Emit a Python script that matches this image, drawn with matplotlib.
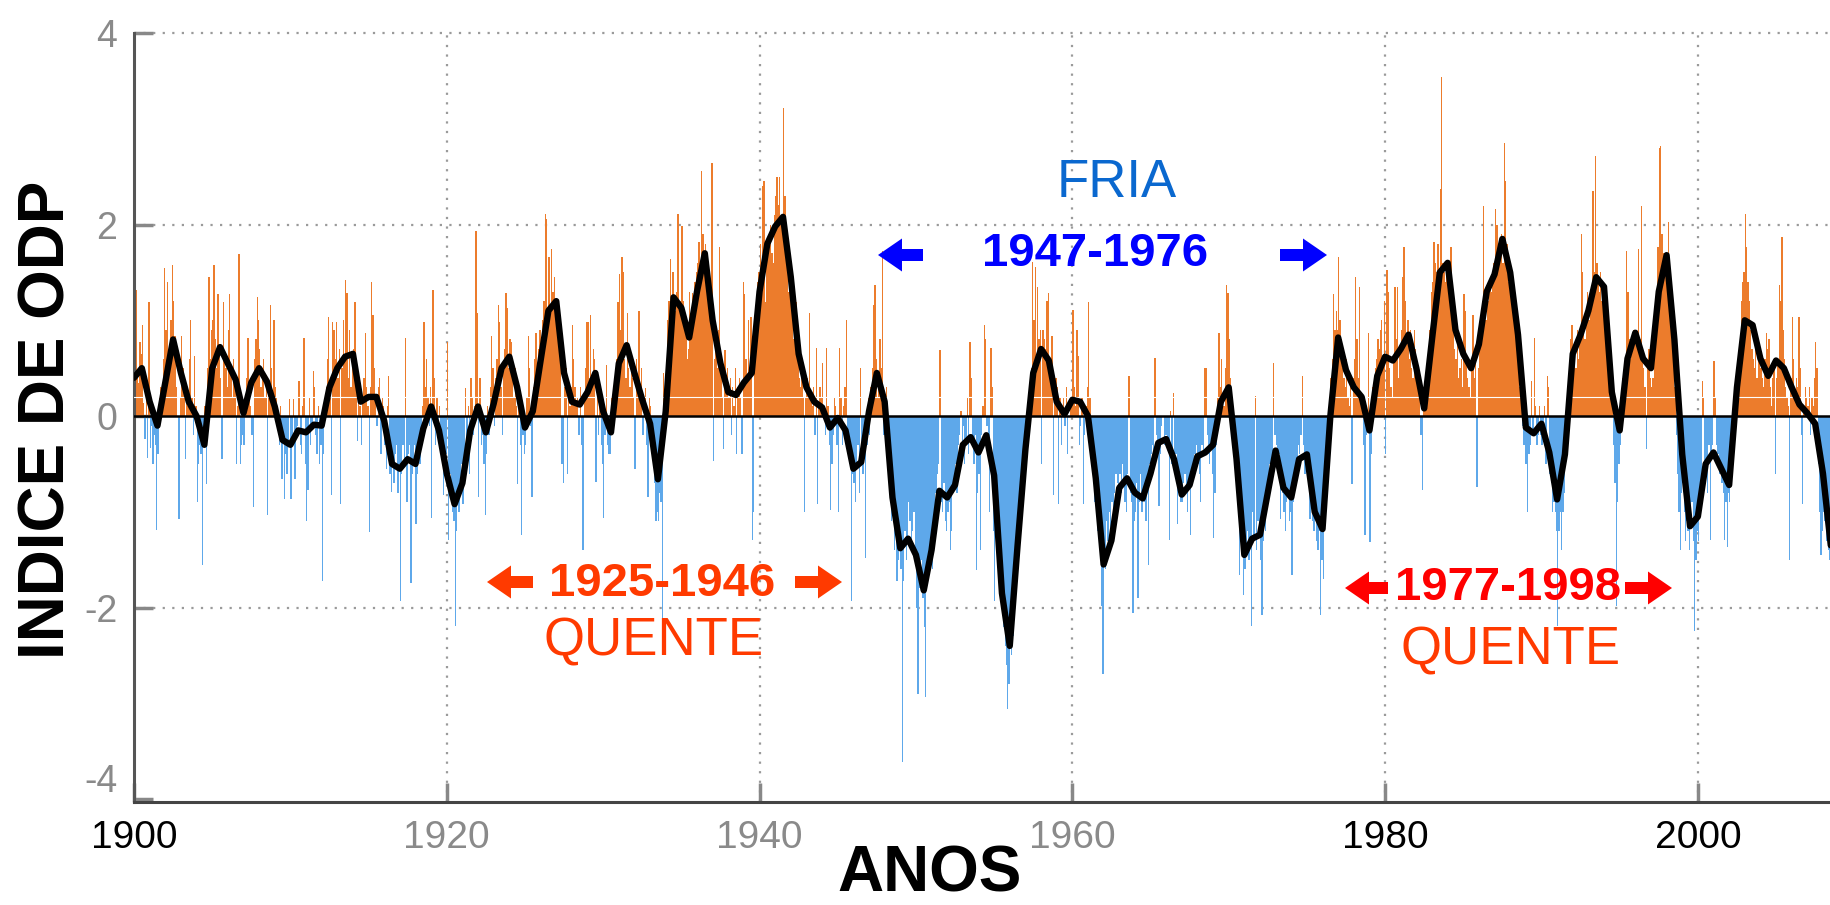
import matplotlib
matplotlib.use("Agg")
import matplotlib.pyplot as plt
import numpy as np
from matplotlib.patches import FancyArrow
from matplotlib.transforms import IdentityTransform

plt.rcParams['font.family'] = ['Liberation Sans', 'DejaVu Sans']

# ---------------- data (monthly PDO index) ----------------
pdo_1900s = [
    0.04, 1.32, 0.49, 0.35, 0.77, 0.65, 0.95, 0.14, -0.24, 0.23, -0.44, 1.19,
    -0.33, -0.10, -0.50, -0.20, -0.30, -1.19, -0.40, 0.20, 0.30, 0.10, 0.60, 1.55,
    0.90, 1.40, 0.60, 0.70, 1.00, 1.58, 1.20, 0.84, 0.30, 0.00, -1.08, 0.20,
    0.84, 0.50, 0.20, -0.45, 0.30, 0.10, 0.60, 1.00, 0.20, -0.20, 0.63, 0.10,
    -0.90, -0.50, -0.30, -0.40, -1.56, -0.20, 0.10, -0.71, 0.50, 1.45, 0.60, 0.90,
    1.00, 1.58, 0.80, 0.50, 1.27, 0.70, 0.40, -0.45, 1.19, 0.60, 0.50, 0.30,
    0.90, 1.27, 0.50, 0.20, 0.60, 0.30, -0.50, 0.10, 1.69, -0.50, -0.30, -0.20,
    -0.30, 0.20, 0.40, 0.82, 0.30, 0.10, -0.20, -0.95, 0.60, 0.80, 1.24, 1.00,
    0.70, 0.30, 0.50, 0.60, 0.20, 0.40, -1.03, 0.30, 1.16, 0.50, 0.10, 1.00,
    0.30, 0.20, -0.10, -0.30, 0.10, -0.66, -0.20, -0.87, -0.40, -0.60, -0.30, 0.18]
pdo_1910s = [
    -0.87, -0.30, 0.18, -0.66, -0.20, -0.10, 0.37, -0.30, -0.40, 0.10, 0.82, -0.50,
    -1.10, -0.77, 0.20, -0.30, -0.10, 0.47, 0.30, -0.20, -0.40, 0.10, -0.50, -0.30,
    -1.72, -0.40, 0.10, 0.30, 0.60, 1.03, 0.20, -0.82, 0.98, 0.90, 0.60, 0.98,
    0.40, 0.70, -0.92, 0.50, 1.00, 0.60, 1.42, 1.29, 0.40, 0.90, 0.30, 0.60,
    0.70, 1.19, 0.50, -0.26, 0.20, 0.10, -0.30, 0.20, 0.40, 0.87, 0.30, 0.10,
    -1.21, 0.30, 1.40, 1.06, 0.50, 0.20, -0.10, 0.30, 0.40, -0.40, 0.20, 0.10,
    -0.30, -0.55, 0.10, 0.42, -0.60, -0.79, -0.50, -0.70, -0.40, -0.30, -0.80, -0.50,
    -1.93, -0.60, -0.30, -0.50, 0.82, -0.90, -0.40, -0.30, -1.74, -0.60, -0.50, -0.30,
    -1.13, -0.60, -0.40, -0.50, -0.20, 0.10, 0.98, 0.30, 0.60, 0.20, -0.10, 0.30,
    -1.06, 1.32, 0.40, -0.30, 0.20, -0.10, 0.10, -0.40, -0.30, -0.82, -0.60, -0.40]
pdo_1920s = [
    0.77, -1.29, -0.60, -0.80, -1.00, -1.10, -2.19, -1.20, -0.90, -1.00, -0.70, -0.50,
    -0.92, -0.40, 0.29, -0.30, 0.10, -0.61, 0.40, 0.20, -0.20, 0.10, 1.93, 1.08,
    -0.84, 0.40, -0.30, -0.20, -0.50, -1.03, -0.40, 0.10, -0.20, 0.30, 0.84, 0.50,
    -0.10, 0.40, 0.60, 1.16, 0.98, 0.30, -0.20, 0.50, 0.70, 1.29, 1.13, 0.50,
    0.80, 0.77, 0.40, 0.20, 0.50, 0.10, -0.71, 0.20, -0.30, -1.24, -0.20, -0.40,
    -0.30, 0.20, 0.84, 0.50, -0.10, -0.84, 0.30, 0.60, 0.87, 0.40, 0.70, 0.90,
    0.60, 1.00, 1.20, 2.11, 2.06, 0.90, 1.66, 1.10, 1.74, 1.30, 1.45, 1.20,
    1.20, 0.90, 0.70, 0.60, -0.50, -0.70, 0.30, 0.50, -0.60, 0.20, 0.10, 0.30,
    0.95, 0.60, 0.30, 0.10, 0.20, -0.20, 0.30, -0.30, -1.40, 0.20, 0.50, 0.98,
    0.98, 0.40, 1.06, 0.30, 0.70, 0.60, -0.69, 0.30, -0.20, 0.10, -0.30, -0.50]
pdo_1930s = [
    -1.06, -0.20, 0.53, -0.30, -0.40, -0.40, 0.20, -0.10, 0.30, 0.40, 0.60, 1.19,
    1.48, 0.90, 1.66, 1.50, 0.60, 0.40, 1.08, 0.50, 0.30, 0.60, 0.40, 0.20,
    -0.55, 0.60, 0.30, 1.10, 0.20, 0.50, -0.20, 0.10, 0.29, -0.30, -0.84, 0.20,
    0.10, -0.30, -0.50, -0.70, -1.10, -1.00, -1.10, -0.80, -0.90, -2.19, 0.45, -0.20,
    0.50, 1.00, 1.20, 1.64, 1.00, 1.50, 1.20, 1.10, 1.30, 2.11, 1.10, 1.20,
    1.98, 1.20, 1.00, 0.87, 0.60, 0.70, 1.30, 1.00, 1.29, 1.10, 1.40, 1.50,
    1.60, 1.82, 1.50, 2.56, 1.90, 1.70, 1.80, 1.50, 1.60, 1.20, 1.00, 2.64,
    -0.47, 0.60, 0.80, 0.50, 0.90, 1.77, 0.60, 0.20, -0.34, 0.69, 0.30, 0.50,
    0.20, 0.40, -0.20, 0.30, 0.10, 0.50, -0.40, 0.30, 0.40, 0.20, -0.40, 1.40,
    1.27, 0.60, 0.40, 1.00, 0.50, 1.03, -1.29, -1.00, 0.80, 1.20, 1.40, 1.50]
pdo_1940s = [
    1.80, 1.50, 2.40, 2.45, 1.19, 1.60, 1.80, 1.90, 2.00, 1.70, 1.60, 2.10,
    2.30, 2.50, 2.20, 2.50, 2.00, 2.10, 3.22, 2.30, 1.80, 1.50, 1.30, 1.40,
    1.20, 1.00, 0.80, 0.90, 1.19, 0.80, 0.40, 0.30, 0.50, 0.20, -1.00, 0.20,
    0.40, 0.30, 1.08, 0.20, 0.10, 0.30, -0.20, 0.71, -0.92, 0.10, 0.30, 0.20,
    0.55, 0.10, -0.20, 0.71, 0.10, -0.30, -0.98, -0.50, -0.20, 0.20, 0.10, -0.30,
    -1.00, 0.71, 0.20, -0.30, 0.10, 0.30, 1.00, -0.20, -0.40, -0.50, -1.93, -0.60,
    -0.70, -0.90, -0.50, -0.30, -0.80, 0.50, -0.40, -0.60, -0.20, -1.48, -0.30, 0.20,
    -0.20, 0.30, 0.50, 1.16, 1.37, 0.60, 0.20, 0.40, 0.80, 0.50, 1.72, -0.20,
    0.20, 0.30, -0.50, -0.30, -0.80, -1.10, -1.00, -1.40, -1.20, -1.72, -1.50, -1.30,
    -1.60, -3.61, -1.72, -1.20, -1.50, -1.30, -0.90, -1.10, -1.40, -1.20, -1.00, -1.50]
pdo_1950s = [
    -2.00, -2.90, -1.80, -1.60, -1.50, -1.90, -2.20, -2.93, -1.70, -1.60, -1.40, -1.50,
    -1.60, -1.30, -1.00, -0.80, -0.60, -0.50, 0.69, -0.90, -1.00, -0.70, -1.10, -1.20,
    -1.00, -0.90, -1.40, -1.20, -0.80, -0.70, -0.50, -0.80, -0.30, -0.20, 0.05, -0.40,
    -0.10, -0.50, -0.30, 0.20, -0.40, 0.77, 0.40, -0.30, -0.50, -0.20, -1.61, -0.80,
    -0.60, -1.40, -0.20, 0.10, 0.95, 0.80, -0.10, -0.40, -1.00, 0.71, 0.30, -1.20,
    -1.93, -1.00, -1.20, -1.40, -1.80, -2.00, -1.90, -2.20, -2.40, -2.60, -3.06, -2.80,
    -2.30, -2.50, -2.30, -2.00, -1.60, -1.40, -1.20, -1.10, -0.90, -0.60, -0.40, -0.30,
    -0.20, 0.10, 0.00, 0.30, 0.50, 1.61, 1.00, 1.56, 0.50, 1.35, 0.80, 0.90,
    -0.50, 0.90, 0.80, 0.70, 1.20, 1.29, 0.60, 0.40, 0.84, -0.82, 0.30, 0.40,
    0.30, -0.92, 0.20, -0.30, 0.10, 0.20, -0.10, 0.30, -0.40, 0.00, 0.20, 0.10]
pdo_1960s = [
    1.11, 0.30, 0.10, 0.90, 0.63, -0.30, -0.10, 0.20, -0.92, -0.20, 0.10, 0.30,
    1.19, 0.20, -0.10, -0.30, -0.60, -0.90, -1.00, -1.20, -0.80, -1.10, -1.98, -2.69,
    -1.40, -1.60, -1.10, -1.30, -1.00, -1.20, -0.90, -1.00, -0.80, -0.60, -0.70, -0.90,
    -0.60, -0.80, -0.50, -0.70, -0.90, -1.00, -0.60, 0.42, -0.80, -0.90, -2.06, -1.10,
    -1.00, -0.70, -1.90, -0.90, -0.60, -1.00, -0.80, -0.90, -1.10, -0.70, -1.56, -0.50,
    -0.40, -0.30, -0.50, 0.61, -0.20, -0.30, -0.94, -0.40, -0.10, 0.00, -0.30, -0.20,
    -0.20, -0.30, -1.29, 0.05, -0.50, 0.24, -0.60, -0.40, -1.13, -0.70, -0.80, -0.90,
    -0.90, -0.70, -0.60, -0.80, -1.00, -0.70, -1.24, -0.60, -0.50, -0.40, -0.50, -0.30,
    -0.50, -0.60, -0.90, -0.30, -0.40, 0.50, 0.50, -0.20, -0.40, -0.50, -0.30, -0.60,
    -1.27, -0.80, -0.30, 0.20, 0.87, 0.30, 0.60, 0.20, 0.10, 0.50, 1.37, 1.29]
pdo_1970s = [
    0.80, 0.40, 0.20, -0.30, -0.20, -0.50, -0.80, -1.00, -1.66, -1.20, -1.40, -1.87,
    -1.60, -1.40, -1.20, -1.50, -1.30, -2.19, -1.00, -1.30, 0.21, -1.40, -1.10, -1.20,
    -1.50, -2.08, -1.30, -1.10, -1.20, -0.90, -0.70, -0.50, -0.60, -0.40, 0.55, -0.20,
    -0.30, -0.50, -0.40, -1.08, -0.70, -0.80, -1.00, -1.20, -0.90, -0.80, -1.10, -1.00,
    -1.66, -0.90, -0.70, -0.60, -0.50, -0.30, -0.40, -0.20, 0.42, -0.30, -0.60, -0.50,
    -0.50, -0.70, -1.08, -0.90, -1.10, -1.20, -1.00, -1.30, -1.40, -1.20, -2.08, -1.50,
    -1.70, -1.20, -0.90, -0.60, -0.30, 0.10, 0.40, 0.60, 1.27, 0.90, 1.10, 0.90,
    1.66, 1.00, 0.80, 0.50, 0.40, 0.30, 0.60, 0.20, 0.10, 0.30, -0.71, 0.40,
    0.60, 1.45, 0.80, 0.40, 1.35, 0.20, 0.10, -0.30, -1.24, -0.20, -0.10, 0.87,
    -1.32, -0.40, 0.30, 0.20, 0.50, 0.60, 0.80, 0.70, 0.90, 1.00, 0.50, 1.20]
pdo_1980s = [
    -0.40, 1.53, 1.30, 0.50, 0.30, 0.20, 0.60, 1.35, 0.80, 1.35, 0.40, 0.70,
    0.90, 1.45, 1.77, 1.20, 0.80, 1.00, 0.60, 0.90, 0.50, 0.40, 0.90, 0.70,
    0.40, 0.30, 0.20, -0.20, -0.77, 0.10, 0.30, 0.10, 0.40, 0.60, 0.90, 1.30,
    1.40, 1.82, 1.60, 1.50, 1.80, 1.30, 2.37, 3.54, 1.60, 1.50, 1.40, 1.60,
    1.50, 1.30, 1.77, 1.20, 0.90, 0.70, 0.60, 0.90, 0.40, 0.50, 0.60, 0.30,
    1.27, 1.10, 0.60, 0.40, 0.30, 0.20, 0.50, 1.06, 0.40, 0.70, -0.74, 0.50,
    0.80, 1.00, 1.20, 2.19, 1.10, 1.00, 1.30, 1.20, 1.40, 1.30, 1.50, 1.60,
    2.16, 2.00, 2.00, 1.80, 1.70, 1.90, 1.60, 2.85, 2.45, 1.80, 1.40, 1.50,
    1.40, 1.30, 1.20, 1.00, 0.90, 0.80, 0.50, 0.30, 0.20, -0.10, -0.30, -0.50,
    -0.50, -1.00, -0.40, -0.30, 0.37, -0.20, 0.82, 0.10, -0.30, -0.20, 0.10, -0.20]
pdo_1990s = [
    -0.30, -0.20, 0.10, -0.50, 0.42, 0.30, -0.60, -0.70, -1.00, -0.90, -1.00, -1.20,
    -2.19, -1.20, -1.00, -1.40, -1.00, -0.80, -0.30, 0.10, 0.30, 0.50, 0.80, 0.95,
    0.70, 0.60, 0.50, 0.90, 0.60, 0.80, 1.90, 1.50, 0.90, 0.80, 1.10, 1.30,
    1.00, 1.20, 1.30, 2.35, 1.50, 2.72, 1.60, 1.40, 1.30, 1.50, 1.20, 1.40,
    1.20, 1.10, 0.90, 0.70, 0.50, 0.30, 0.10, -0.30, -0.70, -1.98, -0.90, -0.50,
    -0.30, 0.10, 0.40, 0.50, 0.60, 1.72, 1.30, 0.80, 0.60, 0.70, 0.90, 0.80,
    0.90, 0.70, 1.74, 0.80, 2.19, 0.60, 0.50, 0.30, -0.34, 0.50, 0.70, 0.40,
    0.30, 0.40, 0.60, 1.00, 1.20, 1.77, 2.80, 2.82, 1.90, 1.70, 1.60, 1.50,
    1.60, 2.03, 1.40, 1.20, 0.90, 0.60, 0.30, -0.20, -0.60, -1.00, -1.40, -0.80,
    -0.70, -1.00, -1.30, -1.10, -1.20, -1.40, -1.10, -0.90, -1.30, -2.24, -1.50, -1.20]
pdo_2000s = [
    -1.30, -1.00, -0.90, 0.37, 0.20, -0.50, -0.60, -0.80, -0.30, -1.29, -0.40, -0.30,
    0.58, 0.20, -0.30, -0.40, -0.60, -0.50, -0.70, -0.80, -1.29, -0.90, -1.37, -0.80,
    -0.90, -0.70, -0.50, -0.40, 0.10, 0.20, 0.40, 0.60, 0.80, 1.20, 1.40, 1.50,
    2.11, 1.77, 1.40, 1.20, 0.90, 0.70, 0.60, 0.50, 0.80, 0.40, 0.60, 0.70,
    0.50, 0.40, 0.30, 0.60, 0.87, 0.70, 0.80, 0.30, 0.10, 0.40, 0.50, -0.61,
    0.40, 0.60, 1.37, 1.20, 1.87, 0.90, 0.60, 0.30, 0.20, 0.10, -1.50, 0.40,
    1.03, 0.60, 0.20, 0.40, 0.30, 1.03, 0.50, -0.20, -0.92, 0.10, 0.30, 0.20,
    0.10, 0.30, -0.20, 0.20, 0.10, 0.40, 0.77, 0.50, -0.50, -1.00, -1.45, -1.20,
    -1.00, -1.10, -1.30, -1.20, -1.40, -1.50]

# smoothed index (black curve), one value every half year from 1900.0
pdo_smooth = [
    0.40, 0.50, 0.15, -0.10, 0.35, 0.80, 0.45, 0.15, 0.00, -0.30,
    0.50, 0.72, 0.55, 0.38, 0.03, 0.35, 0.50, 0.36, 0.10, -0.25,
    -0.30, -0.15, -0.17, -0.09, -0.10, 0.30, 0.50, 0.62, 0.65, 0.15,
    0.20, 0.20, -0.05, -0.50, -0.55, -0.45, -0.50, -0.13, 0.10, -0.15,
    -0.60, -0.92, -0.70, -0.15, 0.10, -0.17, 0.13, 0.50, 0.62, 0.30,
    -0.12, 0.05, 0.58, 1.10, 1.20, 0.45, 0.15, 0.12, 0.25, 0.45,
    0.05, -0.17, 0.55, 0.74, 0.45, 0.17, -0.08, -0.66, 0.05, 1.24,
    1.13, 0.82, 1.30, 1.70, 1.00, 0.55, 0.25, 0.22, 0.35, 0.45,
    1.30, 1.80, 1.98, 2.08, 1.45, 0.65, 0.30, 0.15, 0.09, -0.12,
    -0.02, -0.15, -0.55, -0.48, 0.05, 0.45, 0.15, -0.85, -1.38, -1.28,
    -1.45, -1.82, -1.40, -0.78, -0.85, -0.72, -0.30, -0.22, -0.38, -0.20,
    -0.62, -1.85, -2.40, -1.35, -0.35, 0.45, 0.70, 0.58, 0.15, 0.02,
    0.17, 0.15, 0.00, -0.65, -1.55, -1.30, -0.75, -0.65, -0.80, -0.86,
    -0.60, -0.28, -0.24, -0.45, -0.82, -0.72, -0.42, -0.38, -0.30, 0.15,
    0.30, -0.45, -1.45, -1.28, -1.24, -0.80, -0.36, -0.75, -0.85, -0.45,
    -0.40, -1.00, -1.18, 0.00, 0.82, 0.48, 0.30, 0.20, -0.15, 0.42,
    0.62, 0.58, 0.70, 0.85, 0.50, 0.08, 0.80, 1.50, 1.60, 0.90,
    0.65, 0.50, 0.75, 1.30, 1.48, 1.85, 1.50, 0.85, -0.12, -0.18,
    -0.08, -0.38, -0.87, -0.40, 0.65, 0.85, 1.10, 1.45, 1.35, 0.25,
    -0.15, 0.60, 0.87, 0.60, 0.50, 1.30, 1.68, 0.80, -0.40, -1.15,
    -1.05, -0.50, -0.38, -0.55, -0.72, 0.30, 1.00, 0.95, 0.60, 0.42,
    0.58, 0.50, 0.30, 0.12, 0.03, -0.08, -0.60, -1.35]

x_ticks = [1900, 1920, 1940, 1960, 1980, 2000]
x_tick_labels = ["1900", "1920", "1940", "1960", "1980", "2000"]
y_ticks = [4, 2, 0, -2, -4]
y_tick_labels = ["4", "2", "0", "-2", "-4"]

# ---------------- figure ----------------
W, H = 1830, 905
fig = plt.figure(figsize=(W / 100, H / 100), dpi=100)
ax = fig.add_axes([134 / W, 1 - 802 / H, 1 - 134 / W, (802 - 33) / H])

monthly = np.array(pdo_1900s + pdo_1910s + pdo_1920s + pdo_1930s + pdo_1940s +
                   pdo_1950s + pdo_1960s + pdo_1970s + pdo_1980s + pdo_1990s + pdo_2000s)
t_month = 1900 + (np.arange(len(monthly)) + 0.5) / 12.0
colors = np.where(monthly >= 0, '#EC7C2C', '#5EA8EA')
ax.bar(t_month, monthly, width=1 / 12.0, color=colors, linewidth=0, zorder=2)

t_smooth = 1900 + 0.5 * np.arange(len(pdo_smooth))
ax.plot(t_smooth, pdo_smooth, color='black', lw=4.6, solid_joinstyle='round',
        solid_capstyle='round', zorder=5)

# grid & reference lines
dot = (0, (1, 3.3))
for yv in (4, 2, -2):
    ax.axhline(yv, color='#9a9a9a', lw=1.6, ls=dot, zorder=0, clip_on=False)
for xv in x_ticks[1:]:
    ax.axvline(xv, color='#9a9a9a', lw=1.6, ls=dot, zorder=0)
ax.axhline(0, color='black', lw=1.8, zorder=3)
ax.axhline(0.195, color='white', lw=0.8, zorder=3.5)

ax.set_xlim(1900, 2008.45)
ax.set_ylim(-4.03, 4.0)

for s in ('top', 'right'):
    ax.spines[s].set_visible(False)
ax.spines['left'].set_color('#555555')
ax.spines['left'].set_linewidth(2.2)
ax.spines['bottom'].set_color('#444444')
ax.spines['bottom'].set_linewidth(2.2)

ax.set_xticks(x_ticks)
ax.set_xticklabels(x_tick_labels, fontsize=28)
ax.set_yticks(y_ticks)
# the "-4" label sits a little above the axis in the reference; drawn separately below
ax.set_yticklabels(y_tick_labels[:-1] + [""], fontsize=27, color='#8a8a8a')
ax.tick_params(axis='x', direction='in', length=14, width=2.5, color='#888888', pad=13)
ax.tick_params(axis='y', direction='in', length=14, width=2.5, color='#888888', pad=12)
x_label_colors = ['black', '#8a8a8a', '#8a8a8a', '#8a8a8a', 'black', 'black']
for lab, c in zip(ax.get_xticklabels(), x_label_colors):
    lab.set_color(c)
fig.text(118 / W, 1 - 782 / H, y_tick_labels[-1], fontsize=27, color='#8a8a8a',
         ha='right', va='center')

# axis titles
fig.text(930 / W, 1 - 891 / H, 'ANOS', fontsize=46, fontweight='bold',
         ha='center', va='baseline')
fig.text(48 / W, 1 - 420 / H, 'INDICE DE ODP', fontsize=46, fontweight='bold',
         ha='center', va='center', rotation=90)

# annotations
blue = '#0000FF'
blue2 = '#0A68CF'
orange_red = '#FF3A00'
red = '#FF0000'

fig.text(1117 / W, 1 - 183 / H, 'FRIA', fontsize=38, color=blue2, ha='center', va='center')
fig.text(1095 / W, 1 - 254 / H, '1947-1976', fontsize=34, fontweight='bold', color=blue,
         ha='center', va='center')
fig.text(662 / W, 1 - 584 / H, '1925-1946', fontsize=34, fontweight='bold', color=orange_red,
         ha='center', va='center')
fig.text(654 / W, 1 - 641 / H, 'QUENTE', fontsize=38, color=orange_red, ha='center', va='center')
fig.text(1508 / W, 1 - 588 / H, '1977-1998', fontsize=34, fontweight='bold', color=red,
         ha='center', va='center')
fig.text(1511 / W, 1 - 650 / H, 'QUENTE', fontsize=38, color=orange_red, ha='center', va='center')


def block_arrow(x_tail, x_tip, y, color):
    arr = FancyArrow(x_tail, H - y, x_tip - x_tail, 0, width=12, head_width=33,
                     head_length=24, length_includes_head=True, color=color, lw=0,
                     transform=IdentityTransform())
    fig.add_artist(arr)


block_arrow(923, 878, 255, blue)
block_arrow(1280, 1327, 255, blue)
block_arrow(533, 487, 582, orange_red)
block_arrow(795, 842, 582, orange_red)
block_arrow(1388, 1345, 588, red)
block_arrow(1625, 1672, 588, red)

fig.savefig('out.png', dpi=100)
